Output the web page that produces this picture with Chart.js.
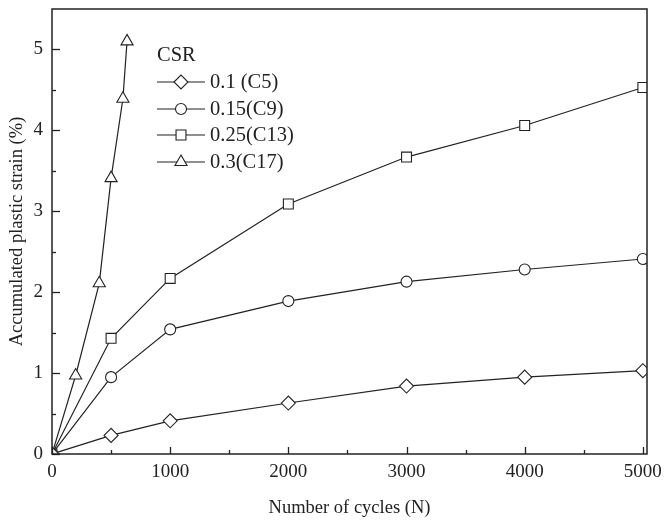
<!DOCTYPE html>
<html lang="en">

<head>
    <meta charset="UTF-8">
    <title>Accumulated plastic strain vs cycles</title>
    <style>
        body {
            margin: 0;
            background: #fff;
        }

        #wrap {
            width: 664px;
            height: 524px;
        }
    </style>
    <script src="https://cdn.jsdelivr.net/npm/chart.js"></script>
</head>

<body>
    <div id="wrap"><canvas id="chart" width="664" height="524"></canvas></div>

    <script>
        // data
        const seriesNames = ['0.1 (C5)', '0.15(C9)', '0.25(C13)', '0.3(C17)'];
        const cyclesLong = [0, 500, 1000, 2000, 3000, 4000, 5000];
        const strainC5 = [0, 0.23, 0.41, 0.63, 0.84, 0.95, 1.03];
        const strainC9 = [0, 0.95, 1.54, 1.89, 2.13, 2.28, 2.41];
        const strainC13 = [0, 1.43, 2.17, 3.09, 3.67, 4.06, 4.53];
        const cyclesC17 = [0, 200, 400, 500, 600, 635];
        const strainC17 = [0, 0.97, 2.11, 3.41, 4.39, 5.1];
        const xTicks = [0, 1000, 2000, 3000, 4000, 5000];
        const yTicks = [0, 1, 2, 3, 4, 5];

        const FONT = "'Liberation Serif', 'Times New Roman', serif";
        const INK = '#222';

        const pts = (xs, ys) => xs.map((x, i) => ({ x: x, y: ys[i] }));

        function mkSet(label, data, style, r) {
            return {
                label: label,
                data: data,
                borderColor: INK,
                borderWidth: 1.2,
                pointStyle: style,
                pointRadius: r,
                pointBorderWidth: 1.1,
                pointBorderColor: INK,
                pointBackgroundColor: '#fff',
                tension: 0
            };
        }

        // keep the plot box where the figure has it
        function noPad(s) {
            s.paddingTop = 0; s.paddingBottom = 0;
            s.paddingLeft = 0; s.paddingRight = 0;
        }

        // inward ticks, frame and the in-plot legend
        const decor = {
            id: 'decor',
            afterDatasetsDraw(chart) {
                const c = chart.ctx;
                const a = chart.chartArea;
                const xs = chart.scales.x, ys = chart.scales.y;
                c.save();
                c.strokeStyle = INK;
                c.lineWidth = 1.3;
                for (let v = 0; v <= 5000; v += 500) {
                    const px = Math.round(xs.getPixelForValue(v)) + 0.5;
                    const len = v % 1000 === 0 ? 7 : 4;
                    c.beginPath(); c.moveTo(px, a.bottom); c.lineTo(px, a.bottom - len); c.stroke();
                }
                for (let v = 0; v <= 5.0001; v += 0.5) {
                    const py = Math.round(ys.getPixelForValue(v)) + 0.5;
                    const len = Math.abs(v - Math.round(v)) < 0.01 ? 8 : 4;
                    c.beginPath(); c.moveTo(a.left, py); c.lineTo(a.left + len, py); c.stroke();
                }
                c.lineWidth = 1.5;
                c.strokeRect(a.left, a.top, a.right - a.left, a.bottom - a.top);

                // legend
                c.fillStyle = INK;
                c.font = '20.5px ' + FONT;
                c.textBaseline = 'middle';
                c.textAlign = 'left';
                c.fillText('CSR', 157, 56);
                const rows = [82, 109, 135, 162];
                chart.data.datasets.forEach((ds, i) => {
                    const y = rows[i];
                    c.lineWidth = 1.2;
                    c.strokeStyle = INK;
                    c.beginPath(); c.moveTo(157, y); c.lineTo(205, y); c.stroke();
                    c.fillStyle = '#fff';
                    c.lineWidth = 1.1;
                    Chart.helpers.drawPoint(c, { pointStyle: ds.pointStyle, radius: ds.pointRadius, rotation: 0, borderWidth: 1.1 }, 181, y);
                    c.fillStyle = INK;
                    c.fillText(ds.label, 210, y + 1);
                });
                c.restore();
            }
        };

        new Chart(document.getElementById('chart'), {
            type: 'line',
            data: {
                datasets: [
                    mkSet(seriesNames[0], pts(cyclesLong, strainC5), 'rectRot', 7),
                    mkSet(seriesNames[1], pts(cyclesLong, strainC9), 'circle', 5.5),
                    mkSet(seriesNames[2], pts(cyclesLong, strainC13), 'rect', 7),
                    mkSet(seriesNames[3], pts(cyclesC17, strainC17), 'triangle', 7)
                ]
            },
            options: {
                responsive: false,
                animation: false,
                layout: { padding: { left: 0, right: 17, top: 9, bottom: 0 } },
                plugins: {
                    legend: { display: false },
                    tooltip: { enabled: false }
                },
                scales: {
                    x: {
                        type: 'linear',
                        min: 0,
                        max: 5035,
                        afterBuildTicks: s => { s.ticks = xTicks.map(v => ({ value: v })); },
                        afterFit: s => { s.height = 70; noPad(s); },
                        grid: { display: false, drawTicks: false },
                        border: { display: false },
                        ticks: { color: INK, padding: 7, font: { family: FONT, size: 19 }, maxRotation: 0, callback: v => String(v) },
                        title: {
                            display: true,
                            text: 'Number of cycles (N)',
                            color: INK,
                            font: { family: FONT, size: 18.5 },
                            padding: { top: 0, bottom: 5 }
                        }
                    },
                    y: {
                        min: 0,
                        max: 5.5,
                        afterBuildTicks: s => { s.ticks = yTicks.map(v => ({ value: v })); },
                        afterFit: s => { s.width = 52; noPad(s); },
                        grid: { display: false, drawTicks: false },
                        border: { display: false },
                        ticks: { color: INK, padding: 9, font: { family: FONT, size: 19 }, callback: v => String(v) },
                        title: {
                            display: true,
                            text: 'Accumulated plastic strain (%)',
                            color: INK,
                            font: { family: FONT, size: 18.5 },
                            padding: { top: 6, bottom: 0 }
                        }
                    }
                }
            },
            plugins: [decor]
        });
    </script>
</body>

</html>
